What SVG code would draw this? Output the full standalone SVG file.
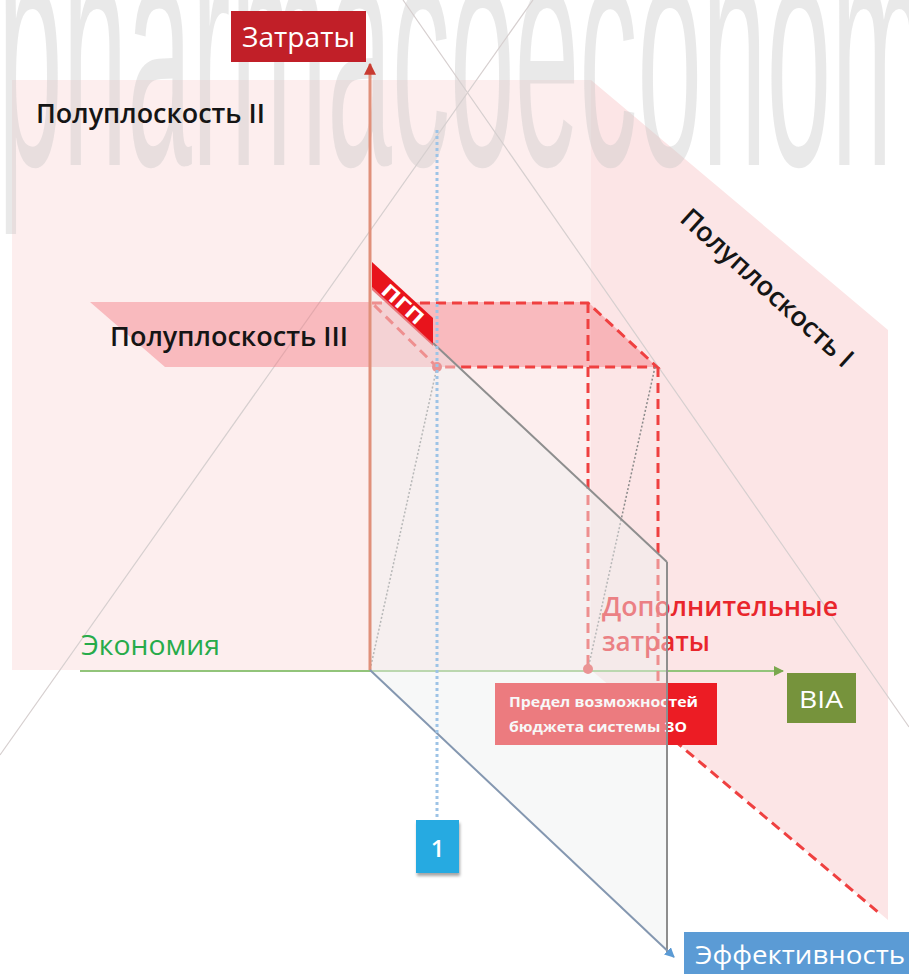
<svg xmlns="http://www.w3.org/2000/svg" width="909" height="974" viewBox="0 0 909 974">
<defs>
<style>
.t{font-family:"Open Sans","Noto Sans","DejaVu Sans",sans-serif}
.lbl{font-size:27px;fill:#151515;font-weight:600}
.wh{fill:#ffffff}
.dash{fill:none;stroke:#ef4040;stroke-width:3;stroke-dasharray:10 6}
.persp{stroke:#d6cfcf;stroke-width:1.2;fill:none}
.gdot{stroke:#8a8a8a;stroke-width:1.5;stroke-dasharray:2 2;fill:none}
.edge{stroke:#8e8e8e;stroke-width:2;fill:none}
</style>
<marker id="arrRed" viewBox="0 0 10 10" refX="9" refY="5" markerWidth="4" markerHeight="4" orient="auto"><path d="M0,0 L10,5 L0,10 z" fill="#c83a30"/></marker>
<marker id="arrGreen" viewBox="0 0 10 10" refX="9" refY="5" markerWidth="5" markerHeight="5" orient="auto"><path d="M0,0 L10,5 L0,10 z" fill="#7aa84e"/></marker>
<marker id="arrBlue" viewBox="0 0 10 10" refX="9" refY="5" markerWidth="5" markerHeight="5" orient="auto"><path d="M0,0 L10,5 L0,10 z" fill="#5b9bd5"/></marker>
<filter id="sh" x="-30%" y="-30%" width="170%" height="170%"><feDropShadow dx="1" dy="3" stdDeviation="1.5" flood-color="#000" flood-opacity="0.35"/></filter>
</defs>
<rect width="909" height="974" fill="#ffffff"/>

<g id="plane-II"><polygon points="12,80 591,80 591,670 12,670" fill="#fdeeee"/></g>
<g id="plane-I"><polygon points="591,80 888,330 888,920 591,670" fill="#fce5e6"/></g>

<text id="watermark" x="-2" y="165" font-family="Liberation Sans, Arial, sans-serif" font-size="332" textLength="930" lengthAdjust="spacingAndGlyphs" fill="#c4c4c4" fill-opacity="0.38">pharmacoeconom</text>

<g id="perspective">
<line class="persp" x1="403" y1="0" x2="909" y2="727"/>
<line class="persp" x1="533" y1="0" x2="0" y2="755"/>
</g>

<g id="plane-III"><polygon points="90,302 588,302 657,367 165,367" fill="#f47b82" fill-opacity="0.45"/></g>

<g id="labels">
<text class="t lbl" x="36" y="123" textLength="229" lengthAdjust="spacingAndGlyphs">Полуплоскость II</text>
<text class="t lbl" x="110" y="346" textLength="238" lengthAdjust="spacingAndGlyphs">Полуплоскость III</text>
<text class="t lbl" x="0" y="9" text-anchor="middle" textLength="222" lengthAdjust="spacingAndGlyphs" transform="translate(767,288) rotate(42)">Полуплоскость I</text>
<text class="t" x="81" y="655" font-size="27" font-weight="500" fill="#27ab4a" textLength="139" lengthAdjust="spacingAndGlyphs">Экономия</text>
</g>

<g id="connectors">
<line x1="80" y1="671" x2="783" y2="671" stroke="#92c47a" stroke-width="2" marker-end="url(#arrGreen)"/>
<path class="dash" d="M372,303 L588,303 L657,367 L437,367 Z"/>
<path class="dash" d="M588,303 V669"/>
<path class="dash" d="M658,367 V684"/>
<path class="dash" d="M625,699 L878,912"/>
<line class="gdot" x1="437" y1="367" x2="370" y2="670"/>
<line class="gdot" x1="655" y1="367" x2="588" y2="669"/>
<circle cx="437" cy="367" r="5" fill="#e84a4a"/>
<circle cx="588" cy="669" r="5" fill="#e84a4a"/>
</g>

<g id="extra-costs">
<text class="t" x="602" y="616" font-size="27" font-weight="600" fill="#e9262c" textLength="236" lengthAdjust="spacingAndGlyphs">Дополнительные</text>
<text class="t" x="602" y="651" font-size="27" font-weight="600" fill="#e9262c" textLength="108" lengthAdjust="spacingAndGlyphs">затраты</text>
</g>

<g id="budget-limit">
<rect x="495" y="683" width="222" height="62" fill="#ec1c24"/>
<text class="t wh" x="509" y="707" font-size="13.5" font-weight="700" textLength="189" lengthAdjust="spacingAndGlyphs">Предел возможностей</text>
<text class="t wh" x="509" y="732" font-size="13.5" font-weight="700" textLength="178" lengthAdjust="spacingAndGlyphs">бюджета системы ЗО</text>
</g>

<g id="pgp">
<polygon points="372,262 433,318 433,346 372,290" fill="#e8141c"/>
<text class="t wh" x="0" y="7" text-anchor="middle" font-size="19" font-weight="700" textLength="50" lengthAdjust="spacingAndGlyphs" transform="translate(403,304) rotate(42.5)">ПГП</text>
</g>

<g id="plane-effect">
<polygon points="370,285 667,562 667,952 370,670" fill="#edf0f0" fill-opacity="0.45"/>
<line class="edge" x1="433" y1="343" x2="667" y2="562"/>
<line class="edge" x1="667" y1="562" x2="667" y2="952"/>
</g>

<g id="axes">
<line x1="370" y1="670" x2="370" y2="64" stroke="#e0907a" stroke-width="3" marker-end="url(#arrRed)"/>
<line x1="370" y1="670" x2="674" y2="957" stroke="#8497b0" stroke-width="2" marker-end="url(#arrBlue)"/>
<line x1="437" y1="130" x2="437" y2="820" stroke="#9dc3e6" stroke-width="3" stroke-dasharray="3 3"/>
</g>

<g id="zatraty">
<rect x="231" y="11" width="135" height="51" fill="#c11f28"/>
<text class="t wh" x="242" y="47" font-size="27" textLength="113" lengthAdjust="spacingAndGlyphs">Затраты</text>
</g>

<g id="bia">
<rect x="787" y="673" width="69" height="50" fill="#76933c"/>
<text class="t wh" x="799" y="708" font-size="24" textLength="44" lengthAdjust="spacingAndGlyphs">BIA</text>
</g>

<g id="effektivnost">
<rect x="684" y="932" width="230" height="45" fill="#5b9bd5"/>
<text class="t wh" x="695" y="964" font-size="25" textLength="210" lengthAdjust="spacingAndGlyphs">Эффективность</text>
</g>

<g id="box-1">
<rect x="416" y="820" width="43" height="53" fill="#27aae1" filter="url(#sh)"/>
<text class="t wh" x="437.5" y="857" font-size="24" font-weight="600" text-anchor="middle">1</text>
</g>
</svg>
